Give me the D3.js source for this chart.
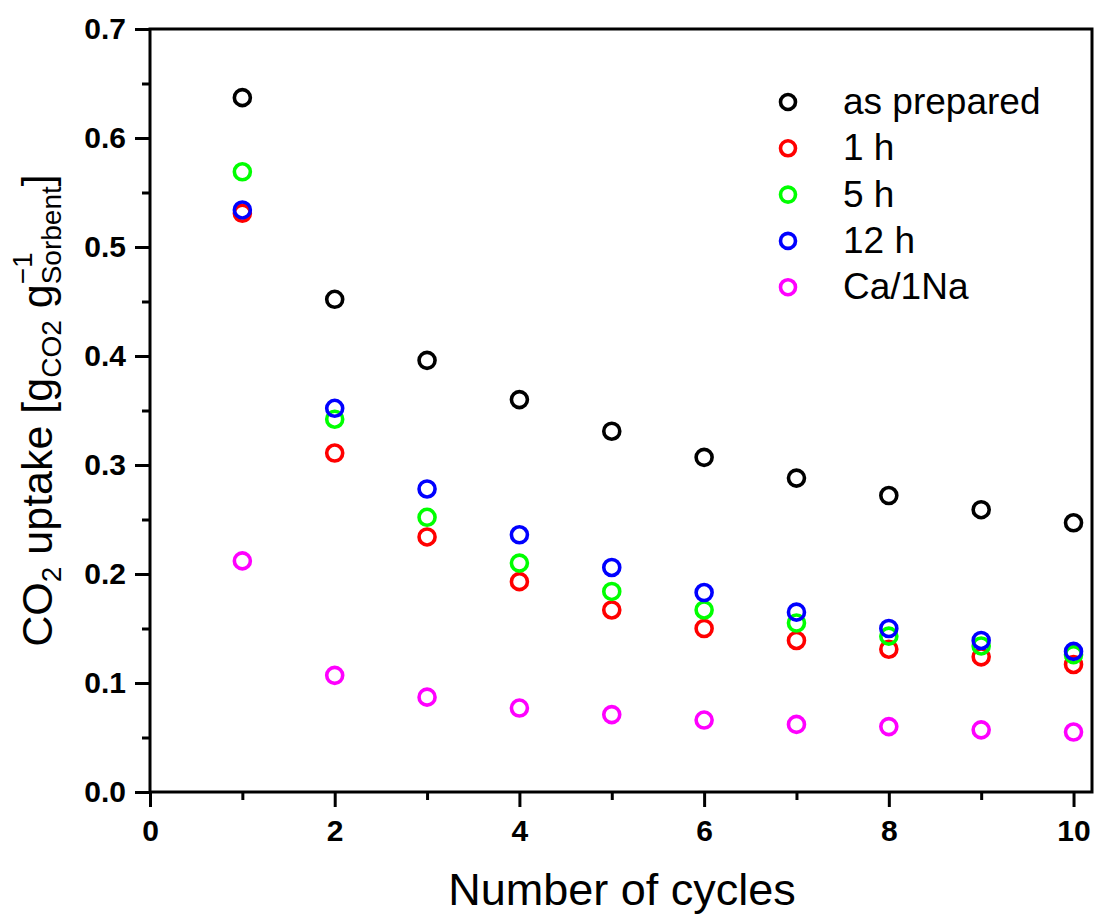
<!DOCTYPE html>
<html>
<head>
<meta charset="utf-8">
<script src="https://cdn.jsdelivr.net/npm/d3@7"></script>
<style>
  html, body { margin: 0; padding: 0; background: #fff; }
  svg { display: block; }
  text { font-family: "Liberation Sans", Arial, sans-serif; }
</style>
</head>
<body>
<svg id="chart" width="1096" height="914"></svg>
<script>
const cycles = [1, 2, 3, 4, 5, 6, 7, 8, 9, 10];
const asPrepared = [0.637, 0.452, 0.396, 0.360, 0.331, 0.307, 0.288, 0.272, 0.259, 0.247];
const oneHour    = [0.531, 0.311, 0.234, 0.193, 0.167, 0.150, 0.139, 0.131, 0.124, 0.117];
const fiveHour   = [0.569, 0.342, 0.252, 0.210, 0.184, 0.167, 0.155, 0.143, 0.134, 0.126];
const twelveHour = [0.534, 0.352, 0.278, 0.236, 0.206, 0.183, 0.165, 0.150, 0.139, 0.129];
const caNa       = [0.212, 0.107, 0.087, 0.077, 0.071, 0.066, 0.062, 0.060, 0.057, 0.055];
const seriesNames = ["as prepared", "1 h", "5 h", "12 h", "Ca/1Na"];
const seriesColors = ["#000000", "#ff0000", "#00ff00", "#0000ff", "#ff00ff"];
const seriesValues = [asPrepared, oneHour, fiveHour, twelveHour, caNa];
const xTickValues = [0, 2, 4, 6, 8, 10];
const yTickValues = [0, 0.1, 0.2, 0.3, 0.4, 0.5, 0.6, 0.7];

const svg = d3.select("#chart");
const L = 150, R = 1092, T = 29, B = 792;
const x = d3.scaleLinear().domain([0, 10.2]).range([L, R]);
const y = d3.scaleLinear().domain([0, 0.7]).range([B, T]);

// minor ticks
const xMinor = d3.range(1, 11, 2);
const yMinor = d3.range(0.05, 0.7, 0.1);

const gx = svg.append("g").attr("transform", `translate(0,${B})`);
gx.call(d3.axisBottom(x).tickValues(xMinor).tickSize(8).tickFormat(""));
gx.call(g => g.selectAll(".domain").remove());
const gx2 = svg.append("g").attr("transform", `translate(0,${B})`)
  .call(d3.axisBottom(x).tickValues(xTickValues).tickSize(15).tickPadding(13).tickFormat(d3.format("d")));
gx2.select(".domain").remove();

const gy = svg.append("g").attr("transform", `translate(${L},0)`);
gy.call(d3.axisLeft(y).tickValues(yMinor).tickSize(8).tickFormat(""));
gy.select(".domain").remove();
const gy2 = svg.append("g").attr("transform", `translate(${L},0)`)
  .call(d3.axisLeft(y).tickValues(yTickValues).tickSize(15).tickPadding(9).tickFormat(d3.format(".1f")));
gy2.select(".domain").remove();

svg.selectAll(".tick line").attr("stroke", "#000").attr("stroke-width", 3);
svg.selectAll(".tick text").attr("fill", "#000").attr("font-size", 30).attr("font-weight", "bold")
  .attr("font-family", "'Liberation Sans', Arial, sans-serif");

// frame
svg.append("rect").attr("x", L).attr("y", T).attr("width", R - L).attr("height", B - T)
  .attr("fill", "none").attr("stroke", "#000").attr("stroke-width", 3);

// points
seriesValues.forEach((vals, i) => {
  svg.append("g").selectAll("circle").data(cycles.map((c, j) => [c, vals[j]])).join("circle")
    .attr("cx", d => x(d[0])).attr("cy", d => y(d[1])).attr("r", 8)
    .attr("fill", "none").attr("stroke", seriesColors[i]).attr("stroke-width", 3.6);
});

// legend
const leg = svg.append("g");
seriesNames.forEach((n, i) => {
  const yy = 102 + i * 46.3;
  leg.append("circle").attr("cx", 788).attr("cy", yy).attr("r", 7.5)
    .attr("fill", "none").attr("stroke", seriesColors[i]).attr("stroke-width", 3.6);
  leg.append("text").attr("x", 843).attr("y", yy + 12).attr("font-size", 37).attr("fill", "#000").text(n);
});

// x title
svg.append("text").attr("x", (L + R) / 2 + 1).attr("y", 905).attr("text-anchor", "middle")
  .attr("font-size", 45).attr("fill", "#000").text("Number of cycles");

// y title
const yt = svg.append("text").attr("transform", `translate(52,${(T + B) / 2}) rotate(-90)`)
  .attr("text-anchor", "middle").attr("font-size", 43).attr("fill", "#000");
yt.append("tspan").text("CO");
yt.append("tspan").attr("font-size", 28).attr("dy", 9).text("2");
yt.append("tspan").attr("dy", -9).text(" uptake [g");
yt.append("tspan").attr("font-size", 28).attr("dy", 9).text("CO2");
yt.append("tspan").attr("dy", -9).text(" g");
const sup = yt.append("tspan").attr("font-size", 28).attr("dy", -20).text("\u22121");
const sub = yt.append("tspan").attr("font-size", 28).attr("dy", 29).text("Sorbent");
const close = yt.append("tspan").attr("dy", -9).text("]");
const w = sup.node().getComputedTextLength();
sub.attr("dx", -w);
</script>
</body>
</html>
